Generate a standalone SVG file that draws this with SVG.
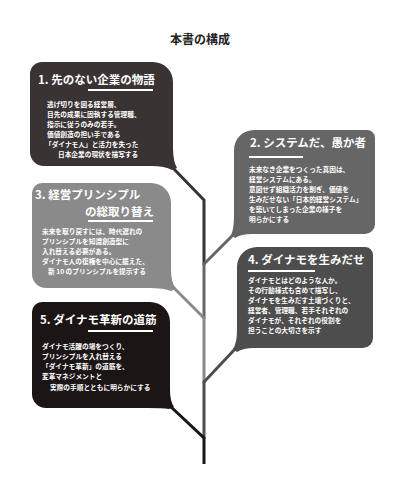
<svg xmlns="http://www.w3.org/2000/svg" width="407" height="490" viewBox="0 0 407 490">
<style>
.ttl{font-family:"Noto Sans CJK JP","Noto Sans",sans-serif;font-weight:700;font-size:11.5px;fill:#fff}
.bd{font-family:"Noto Sans CJK JP","Noto Sans",sans-serif;font-weight:700;font-size:6.7px;fill:#fff}
.ul{stroke:#fff;stroke-width:2}
.cn{fill:none;stroke-width:3;stroke-linejoin:miter;stroke-linecap:butt}
.head{font-family:"Noto Sans CJK JP","Noto Sans",sans-serif;font-weight:700;font-size:12px;fill:#222}
</style>
<rect width="407" height="490" fill="#fff"/>
<text class="head" x="170" y="44">本書の構成</text>

<g id="connectors">
<polyline class="cn" stroke="#3a3334" points="172,167 204,200 204,265"/>
<polyline class="cn" stroke="#666666" points="235,233 204,264 204,319"/>
<polyline class="cn" stroke="#8a8a8a" points="173,287 204,318 204,383"/>
<polyline class="cn" stroke="#4d4d4d" points="235,349 204,382 204,439"/>
<polyline class="cn" stroke="#1c1516" points="170,406 204,438 204,464"/>
</g>

<g id="node1">
<path fill="#3a3334" d="M42,62 H153 A20,20 0 0 1 173,82 V148 Q173,161 177,168 L172,170 Q165,166 151,166 H44 A14,14 0 0 1 30,152 V74 A12,12 0 0 1 42,62 Z"/>
<text class="ttl" x="38" y="84">1. 先のない企業の物語</text>
<line class="ul" x1="88" y1="90" x2="153" y2="90"/>
<text class="bd" x="47" y="107">逃げ切りを図る経営層、</text>
<text class="bd" x="47" y="117">目先の成果に固執する管理職、</text>
<text class="bd" x="47" y="127">指示に従うのみの若手。</text>
<text class="bd" x="47" y="137">価値創造の担い手である</text>
<text class="bd" x="45" y="147">「ダイナモ人」と活力を失った</text>
<text class="bd" x="58" y="157">日本企業の現状を描写する</text>
</g>

<g id="node2">
<path fill="#666666" d="M254,130 H367 A8,8 0 0 1 375,138 V224 A10,10 0 0 1 365,234 H252 Q241,234 235,238 L231,235 Q234,229 234,216 V150 A20,20 0 0 1 254,130 Z"/>
<text class="ttl" x="250" y="147">2. システムだ、愚か者</text>
<line class="ul" x1="249" y1="157" x2="303" y2="157"/>
<text class="bd" x="249" y="172">未来なき企業をつくった真因は、</text>
<text class="bd" x="249" y="182">経営システムにある。</text>
<text class="bd" x="249" y="192">意図せず組織活力を削ぎ、価値を</text>
<text class="bd" x="249" y="202">生みだせない「日本的経営システム」</text>
<text class="bd" x="249" y="212">を築いてしまった企業の様子を</text>
<text class="bd" x="249" y="222">明らかにする</text>
</g>

<g id="node3">
<path fill="#8a8a8a" d="M42,183 H151 A20,20 0 0 1 171,203 V270 Q171,282 176,289 L171,291 Q164,288 149,288 H46 A14,14 0 0 1 32,274 V193 A10,10 0 0 1 42,183 Z"/>
<text class="ttl" x="35" y="199">3. 経営プリンシプル</text>
<text class="ttl" x="85" y="216">の総取り替え</text>
<line class="ul" x1="88" y1="221" x2="153" y2="221"/>
<text class="bd" x="42" y="234">未来を取り戻すには、時代遅れの</text>
<text class="bd" x="42" y="244">プリンシプルを知識創造型に</text>
<text class="bd" x="42" y="254">入れ替える必要がある。</text>
<text class="bd" x="42" y="264">ダイナモ人の復権を中心に据えた、</text>
<text class="bd" x="48" y="274">新 10 のプリンシプルを提示する</text>
</g>

<g id="node4">
<path fill="#4d4d4d" d="M257,247 H365 A8,8 0 0 1 373,255 V338 A10,10 0 0 1 363,348 H254 Q243,348 237,352 L233,349 Q237,343 237,330 V267 A20,20 0 0 1 257,247 Z"/>
<text class="ttl" x="248" y="264">4. ダイナモを生みだせ</text>
<line class="ul" x1="248" y1="271" x2="315" y2="271"/>
<text class="bd" x="248" y="283">ダイナモとはどのような人か。</text>
<text class="bd" x="248" y="293">その行動様式も含めて描写し、</text>
<text class="bd" x="248" y="303">ダイナモを生みだす土壌づくりと、</text>
<text class="bd" x="248" y="313">経営者、管理職、若手それぞれの</text>
<text class="bd" x="248" y="323">ダイナモが、それぞれの役割を</text>
<text class="bd" x="248" y="333">担うことの大切さを示す</text>
</g>

<g id="node5">
<path fill="#1c1516" d="M42,302 H150 A20,20 0 0 1 170,322 V390 Q170,401 174,407 L169,409 Q162,408 148,408 H46 A14,14 0 0 1 32,394 V312 A10,10 0 0 1 42,302 Z"/>
<text class="ttl" x="40" y="324">5. ダイナモ革新の道筋</text>
<line class="ul" x1="88" y1="331" x2="153" y2="331"/>
<text class="bd" x="42" y="349">ダイナモ活躍の場をつくり、</text>
<text class="bd" x="42" y="359">プリンシプルを入れ替える</text>
<text class="bd" x="42" y="369">「ダイナモ革新」の道筋を、</text>
<text class="bd" x="42" y="379">変革マネジメントと</text>
<text class="bd" x="50" y="390">実際の手順とともに明らかにする</text>
</g>
</svg>
